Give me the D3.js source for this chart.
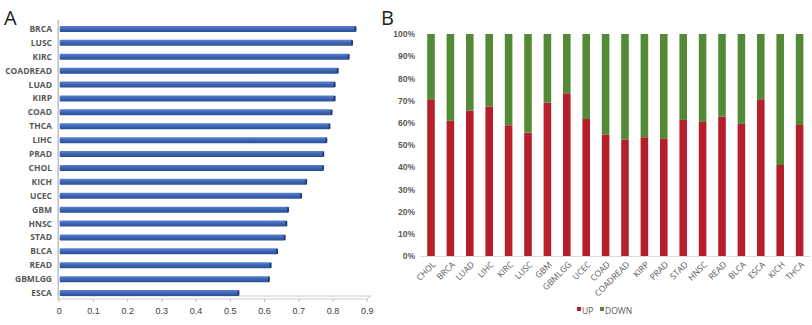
<!DOCTYPE html>
<html>
<head>
<meta charset="utf-8">
<script src="https://cdn.jsdelivr.net/npm/d3@7"></script>
<style>
  body { margin: 0; background: #fff; }
  svg { font-family: "Open Sans", "DejaVu Sans", sans-serif; }
</style>
</head>
<body>
<svg id="chart" width="812" height="325"></svg>
<script>
// panel A: score per cancer type
const rankCats = ['BRCA', 'LUSC', 'KIRC', 'COADREAD', 'LUAD', 'KIRP', 'COAD', 'THCA', 'LIHC', 'PRAD',
  'CHOL', 'KICH', 'UCEC', 'GBM', 'HNSC', 'STAD', 'BLCA', 'READ', 'GBMLGG', 'ESCA'];
const rankValues = [0.869, 0.859, 0.849, 0.817, 0.808, 0.808, 0.799, 0.793, 0.784, 0.775,
  0.774, 0.725, 0.710, 0.672, 0.667, 0.662, 0.640, 0.621, 0.616, 0.527];
const rankTicks = [0, 0.1, 0.2, 0.3, 0.4, 0.5, 0.6, 0.7, 0.8, 0.9];

// panel B: share of UP / DOWN
const propCats = ['CHOL', 'BRCA', 'LUAD', 'LIHC', 'KIRC', 'LUSC', 'GBM', 'GBMLGG', 'UCEC', 'COAD',
  'COADREAD', 'KIRP', 'PRAD', 'STAD', 'HNSC', 'READ', 'BLCA', 'ESCA', 'KICH', 'THCA'];
const upShare = [0.706, 0.609, 0.655, 0.673, 0.589, 0.556, 0.691, 0.733, 0.617, 0.546,
  0.525, 0.535, 0.530, 0.613, 0.604, 0.628, 0.595, 0.706, 0.410, 0.590];
const propTicks = [0, 0.1, 0.2, 0.3, 0.4, 0.5, 0.6, 0.7, 0.8, 0.9, 1];
const seriesNames = ['UP', 'DOWN'];
const seriesColors = ['#b41f29', '#528a37'];

const svg = d3.select('#chart');

// gradient for the cylinder-ish bars
const defs = svg.append('defs');
const grad = defs.append('linearGradient')
  .attr('id', 'barGrad').attr('x1', 0).attr('y1', 0).attr('x2', 0).attr('y2', 1);
grad.append('stop').attr('offset', '0%').attr('stop-color', '#5a82cc');
grad.append('stop').attr('offset', '45%').attr('stop-color', '#3f67b6');
grad.append('stop').attr('offset', '100%').attr('stop-color', '#2b4e95');

// ---------- panel A ----------
const gA = svg.append('g');
gA.append('text').attr('x', 4).attr('y', 25)
  .attr('font-size', 20).attr('fill', '#222').text('A');

const xA = d3.scaleLinear().domain([0, 0.9]).range([58.7, 366.7]);
const yA = d3.scaleBand().domain(rankCats).range([22, 300])
  .paddingInner(0.57).paddingOuter(0.285);

// left wall line
gA.append('line')
  .attr('x1', xA(0) - 0.5).attr('x2', xA(0) - 0.5)
  .attr('y1', 20).attr('y2', 300)
  .attr('stroke', '#bfbfbf').attr('stroke-width', 1.5);

// floor (double line)
const floorY = 299;
gA.append('path')
  .attr('d', `M${xA(0)},${floorY} L${xA(0.9)},${floorY} L${xA(0.9) + 4},${floorY - 3} L${xA(0) + 4},${floorY - 3}`)
  .attr('fill', 'none').attr('stroke', '#bdbdbd').attr('stroke-width', 0.8);

const axA = d3.axisBottom(xA).tickValues(rankTicks)
  .tickFormat(d3.format('.1~f')).tickSize(3).tickSizeOuter(0);
const axAg = gA.append('g').attr('transform', `translate(0,${floorY})`).call(axA);
axAg.select('.domain').remove();
axAg.selectAll('line').attr('stroke', '#bdbdbd');
axAg.selectAll('text').attr('font-size', 9).attr('fill', '#404040').attr('dy', '1.05em')
  .text(d => d === 0 ? '0' : d3.format('.1f')(d));

gA.selectAll('.barA')
  .data(rankCats)
  .join('rect')
  .attr('class', 'barA')
  .attr('x', xA(0) + 1)
  .attr('y', d => yA(d))
  .attr('width', (d, i) => xA(rankValues[i]) - xA(0) - 1)
  .attr('height', yA.bandwidth())
  .attr('rx', 1)
  .attr('fill', 'url(#barGrad)');

// dark end caps
gA.selectAll('.capA')
  .data(rankCats)
  .join('rect')
  .attr('class', 'capA')
  .attr('x', (d, i) => xA(rankValues[i]) - 1.5)
  .attr('y', d => yA(d) + 0.5)
  .attr('width', 1.8)
  .attr('height', yA.bandwidth() - 1)
  .attr('fill', '#1f3a70');

gA.selectAll('.labA')
  .data(rankCats)
  .join('text')
  .attr('class', 'labA')
  .attr('x', 52)
  .attr('y', d => yA(d) + yA.bandwidth() / 2)
  .attr('dy', '0.35em')
  .attr('text-anchor', 'end')
  .attr('font-size', 8.5)
  .attr('font-weight', 'bold')
  .attr('fill', '#595959')
  .text(d => d);

// ---------- panel B ----------
const gB = svg.append('g');
gB.append('text').attr('x', 381).attr('y', 25)
  .attr('font-size', 20).attr('fill', '#222').text('B');

const xB = d3.scaleBand().domain(propCats).range([421.3, 809.3])
  .paddingInner(0.61).paddingOuter(0.305);
const yB = d3.scaleLinear().domain([0, 1]).range([256, 34]);

const axB = d3.axisLeft(yB).tickValues(propTicks).tickFormat(d3.format('.0%')).tickSize(0);
const axBg = gB.append('g').attr('transform', 'translate(415,0)').call(axB);
axBg.select('.domain').remove();
axBg.selectAll('text').attr('font-size', 8.5).attr('font-weight', 'bold')
  .attr('fill', '#595959').attr('x', 0);

const stacked = d3.stack().keys([0, 1])(propCats.map((c, i) => [upShare[i], 1 - upShare[i]]));

gB.selectAll('.series')
  .data(stacked)
  .join('g')
  .attr('class', 'series')
  .attr('fill', (d, i) => seriesColors[i])
  .selectAll('rect')
  .data(d => d)
  .join('rect')
  .attr('x', (d, i) => xB(propCats[i]))
  .attr('y', d => yB(d[1]))
  .attr('width', xB.bandwidth())
  .attr('height', d => yB(d[0]) - yB(d[1]));

gB.append('line')
  .attr('x1', 420).attr('x2', 810)
  .attr('y1', yB(0) + 0.5).attr('y2', yB(0) + 0.5)
  .attr('stroke', '#d9d9d9');

gB.selectAll('.labB')
  .data(propCats)
  .join('text')
  .attr('class', 'labB')
  .attr('transform', d => `translate(${xB(d) + xB.bandwidth() / 2 + 3},${yB(0) + 7}) rotate(-45)`)
  .attr('text-anchor', 'end')
  .attr('dy', '0.35em')
  .attr('font-size', 8.5)
  .attr('fill', '#595959')
  .text(d => d);

// legend
const legend = gB.append('g').attr('transform', 'translate(577,312)');
const legX = [0, 23];
seriesNames.forEach((name, i) => {
  legend.append('rect').attr('x', legX[i]).attr('y', -5).attr('width', 4).attr('height', 4)
    .attr('fill', seriesColors[i]);
  legend.append('text').attr('x', legX[i] + 5).attr('y', 0).attr('dy', '0.2em')
    .attr('font-size', 8.5).attr('fill', '#595959').text(name);
});
</script>
</body>
</html>
